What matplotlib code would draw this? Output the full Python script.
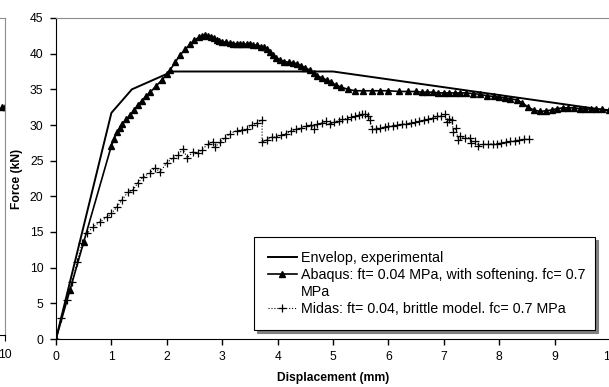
import matplotlib
matplotlib.use("Agg")
import matplotlib.pyplot as plt

plt.rcParams['font.family'] = ['Liberation Sans', 'DejaVu Sans']

# experimental envelope
env_x = [0, 1.0, 1.37, 2.1, 5.0, 10.0]
env_y = [0, 31.7, 35.0, 37.5, 37.5, 32.0]

# Abaqus (with softening)
abq_x = [0, 0.25, 0.5, 1.0, 1.05, 1.1, 1.15, 1.2, 1.27, 1.34, 1.41, 1.48, 1.55, 1.62,
         1.7, 1.8, 1.91, 2.0, 2.06, 2.15, 2.24, 2.33, 2.42, 2.5, 2.58, 2.64, 2.69, 2.75,
         2.8, 2.85, 2.9, 2.95, 3.0, 3.07, 3.14, 3.2, 3.26, 3.32, 3.38, 3.44, 3.5, 3.56,
         3.63, 3.7, 3.76, 3.81, 3.86, 3.92, 3.98, 4.05, 4.12, 4.2, 4.28, 4.35, 4.42, 4.5,
         4.58, 4.65, 4.72, 4.8, 4.89, 4.97, 5.05, 5.15, 5.27, 5.4, 5.55, 5.7, 5.85, 6.0,
         6.2, 6.35, 6.5, 6.6, 6.7, 6.8, 6.9, 7.0, 7.1, 7.2, 7.3, 7.4, 7.53, 7.65, 7.78,
         7.9, 8.0, 8.1, 8.2, 8.32, 8.42, 8.52, 8.62, 8.74, 8.85, 8.95, 9.05, 9.15, 9.25,
         9.35, 9.45, 9.55, 9.65, 9.75, 9.85, 9.98]
abq_y = [0, 6.8, 13.6, 27.1, 28.1, 29.0, 29.6, 30.1, 30.8, 31.4, 32.1, 32.8, 33.4, 34.0,
         34.6, 35.4, 36.3, 37.1, 37.7, 38.8, 39.8, 40.6, 41.3, 41.9, 42.3, 42.5, 42.6, 42.5,
         42.4, 42.2, 41.9, 41.8, 41.7, 41.6, 41.5, 41.4, 41.4, 41.4, 41.4, 41.3, 41.3, 41.2,
         41.2, 41.0, 40.9, 40.7, 40.3, 39.8, 39.4, 39.1, 38.9, 38.8, 38.7, 38.6, 38.3, 38.0,
         37.7, 37.3, 36.9, 36.6, 36.3, 36.0, 35.6, 35.3, 35.0, 34.8, 34.8, 34.8, 34.8, 34.8,
         34.7, 34.7, 34.7, 34.6, 34.6, 34.6, 34.5, 34.5, 34.5, 34.5, 34.5, 34.5, 34.4, 34.3, 34.1,
         34.0, 33.9, 33.8, 33.7, 33.5, 33.1, 32.5, 32.1, 31.9, 32.0, 32.1, 32.3, 32.4, 32.4,
         32.4, 32.3, 32.3, 32.2, 32.2, 32.2, 32.1]

# Midas (brittle)
mid_x = [0, 0.09, 0.19, 0.29, 0.38, 0.47, 0.56, 0.67, 0.79, 0.92, 1.0, 1.1, 1.19, 1.3,
         1.39, 1.48, 1.57, 1.7, 1.79, 1.88, 2.0, 2.11, 2.2, 2.29, 2.37, 2.47, 2.56, 2.63,
         2.74, 2.83, 2.87, 2.96, 3.05, 3.14, 3.26, 3.35, 3.44, 3.54, 3.62, 3.72, 3.72, 3.8,
         3.9, 3.98, 4.07, 4.16, 4.25, 4.34, 4.43, 4.52, 4.6, 4.66, 4.72, 4.8, 4.88, 4.95,
         5.02, 5.1, 5.17, 5.25, 5.33, 5.4, 5.47, 5.52, 5.58, 5.63, 5.67, 5.7, 5.78, 5.85,
         5.93, 6.0, 6.08, 6.16, 6.24, 6.32, 6.4, 6.48, 6.56, 6.64, 6.72, 6.8, 6.88, 6.95,
         7.02, 7.05, 7.1, 7.15, 7.17, 7.22, 7.26, 7.3, 7.38, 7.47, 7.5, 7.56, 7.62, 7.71,
         7.8, 7.88, 7.96, 8.04, 8.12, 8.2, 8.28, 8.36, 8.45, 8.54]
mid_y = [0, 2.9, 5.5, 8.0, 10.8, 13.4, 14.8, 15.7, 16.4, 17.1, 17.6, 18.5, 19.5, 20.6,
         20.9, 21.9, 22.7, 23.3, 24.0, 23.4, 24.7, 25.4, 25.8, 26.6, 25.4, 26.2, 26.1, 26.5,
         27.3, 27.6, 26.9, 27.6, 28.2, 28.8, 29.2, 29.3, 29.4, 30.0, 30.3, 30.7, 27.6, 27.9,
         28.3, 28.3, 28.6, 28.8, 29.2, 29.4, 29.6, 29.9, 30.0, 29.5, 30.1, 30.3, 30.5, 30.1,
         30.4, 30.6, 30.8, 30.9, 31.1, 31.2, 31.4, 31.5, 31.6, 31.3, 30.7, 29.4, 29.5, 29.6,
         29.7, 29.8, 29.9, 30.0, 30.1, 30.2, 30.3, 30.4, 30.5, 30.7, 30.8, 31.0, 31.2, 31.3,
         31.5, 30.4, 30.9, 30.7, 29.0, 29.6, 27.9, 28.4, 28.2, 28.2, 27.5, 27.8, 27.1, 27.3,
         27.3, 27.4, 27.4, 27.5, 27.6, 27.7, 27.8, 27.9, 28.0, 28.0]

# tail of the neighbouring chart, cut off at the left edge
left_x = [9.95, 10.0]
left_y = [32.4, 32.3]

labels = ["Envelop, experimental",
          "Abaqus: ft= 0.04 MPa, with softening. fc= 0.7",
          "MPa",
          "Midas: ft= 0.04, brittle model. fc= 0.7 MPa"]

W, H = 609, 387
fs = 8.7
lfs = 10.3
fig = plt.figure(figsize=(W / 100, H / 100), dpi=100)

# neighbouring chart (only its right edge is visible)
ax0 = fig.add_axes([(5 - 554) / W, (H - 335) / H, 554 / W, 317 / H])
ax0.plot(left_x, left_y, color="black", marker="^", ms=4, lw=1.2)
ax0.set_xlim(0, 10)
ax0.set_ylim(0, 45)
ax0.set_xticks([10])
ax0.set_yticks([])
ax0.tick_params(axis="x", direction="out", length=4, pad=6, labelsize=fs)
for s in ["top", "right"]:
    ax0.spines[s].set_color("0.55")
ax0.spines["left"].set_visible(False)

ax = fig.add_axes([56 / W, (H - 339) / H, 554 / W, 321 / H])
h_env, = ax.plot(env_x, env_y, color="black", lw=1.4)
h_abq, = ax.plot(abq_x, abq_y, color="black", lw=1.2, marker="^", ms=4)
h_mid, = ax.plot(mid_x, mid_y, color="black", lw=0.8, ls=":", marker="+", ms=6, mew=0.9)
h_blank, = ax.plot([], [], color="none")

ax.set_xlim(0, 10)
ax.set_ylim(0, 45)
ax.set_xticks(range(0, 11))
ax.set_yticks(range(0, 46, 5))
ax.tick_params(direction="out", length=4, width=1, pad=5, labelsize=fs)
ax.spines["top"].set_color("0.55")
ax.spines["right"].set_color("0.55")

ax.set_xlabel("Displacement (mm)", fontsize=fs, fontweight="bold")
ax.set_ylabel("Force (kN)", fontsize=fs, fontweight="bold")
ax.xaxis.set_label_coords(0.5, -0.103)
ax.yaxis.set_label_coords(-0.06, 0.5)

leg = ax.legend([h_env, h_abq, h_blank, h_mid], labels,
                loc="upper left", bbox_to_anchor=(0.357, 0.318, 0.616, 0.0),
                mode="expand", borderaxespad=0, fontsize=lfs, frameon=True,
                fancybox=False, framealpha=1, edgecolor="black", handlelength=2.0,
                handletextpad=0.3, borderpad=1.0, labelspacing=0.2,
                shadow={"color": "0.5", "alpha": 1})
leg.get_frame().set_linewidth(0.8)

fig.savefig("out.png", dpi=100)
